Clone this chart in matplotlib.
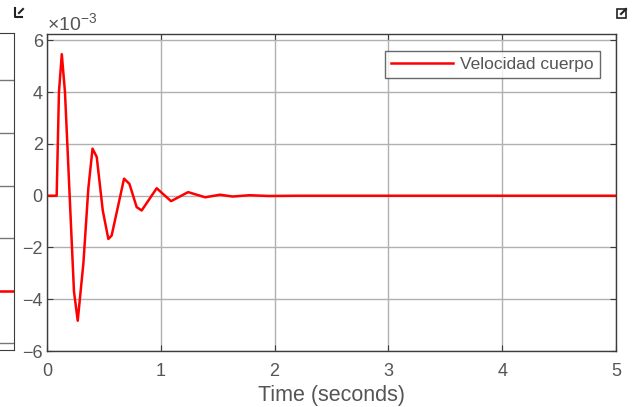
import matplotlib
matplotlib.use("Agg")
import matplotlib.pyplot as plt
from matplotlib.lines import Line2D
from matplotlib.patches import Rectangle

plt.rcParams['font.family'] = ['Liberation Sans', 'DejaVu Sans']
plt.rcParams['mathtext.fontset'] = 'custom'
plt.rcParams['mathtext.rm'] = 'Liberation Sans'
plt.rcParams['mathtext.it'] = 'Liberation Sans'

# Data (velocity in units of 1e-3)
time_s = [0.0, 0.085, 0.105, 0.13, 0.158, 0.237, 0.27, 0.32, 0.363, 0.40, 0.437,
          0.49, 0.539, 0.568, 0.677, 0.724, 0.788, 0.832, 0.964, 1.09, 1.24, 1.39,
          1.52, 1.63, 1.78, 1.95, 2.2, 5.0]
velocidad = [0.0, 0.0, 4.0, 5.47, 4.0, -3.7, -4.83, -2.6, 0.27, 1.82, 1.5,
             -0.57, -1.67, -1.54, 0.66, 0.46, -0.44, -0.57, 0.29, -0.21, 0.14, -0.06,
             0.04, -0.03, 0.02, -0.01, 0.0, 0.0]

x_ticks = [0, 1, 2, 3, 4, 5]
y_ticks = [-6, -4, -2, 0, 2, 4, 6]

# Partially visible left panel
left_ticks = [7, 59, 112, 164, 217, 270]
left_level = [59, 59]

W, H = 632, 407
fig = plt.figure(figsize=(W / 100, H / 100), dpi=100)

gray_txt = '#555555'
grid_c = '#b0b0b0'
spine_c = '#3c3c3c'

# Left cut-off panel
ax0 = fig.add_axes([-200 / W, (H - 350) / H, 214 / W, 317 / H])
ax0.set_xlim(0, 1)
ax0.set_ylim(0, 317)
ax0.set_yticks(left_ticks)
ax0.set_xticks([])
ax0.yaxis.grid(True, color='#777777', lw=1)
ax0.plot([0, 1], left_level, color='red', lw=1.8)
ax0.tick_params(labelleft=False, left=False, right=False)
for s in ax0.spines.values():
    s.set_color(spine_c)

# Main axes
ax = fig.add_axes([47 / W, (H - 351) / H, 569 / W, 317 / H])
ax.plot(time_s, velocidad, color='#ff0000', lw=1.8, label='Velocidad cuerpo')
ax.set_xlim(0, 5)
ax.set_ylim(-6, 6.25)
ax.set_xticks(x_ticks)
ax.set_yticks(y_ticks)
ax.grid(True, color=grid_c, lw=1)
ax.tick_params(direction='in', top=True, right=True, length=4, colors=spine_c,
               labelcolor=gray_txt, labelsize=13)
ax.tick_params(axis='x', pad=9)
ax.tick_params(axis='y', pad=3)
for s in ax.spines.values():
    s.set_color(spine_c)
    s.set_linewidth(1.0)

# x-axis label near the bottom edge, as in the reference
fig.text(331 / W, 5.5 / H, 'Time (seconds)', fontsize=15.5, color=gray_txt,
         ha='center', va='baseline')

ax.text(0.0, 1.0, r'$\times10^{-3}$', transform=ax.transAxes, fontsize=14,
        color=gray_txt, ha='left', va='bottom')

leg = ax.legend(loc='upper right', bbox_to_anchor=(0.972, 0.946), borderaxespad=0,
                fontsize=12.5, frameon=True, fancybox=False, handlelength=3.6,
                borderpad=0.35, labelcolor=gray_txt, handletextpad=0.4)
leg.get_frame().set_edgecolor('#444444')
leg.get_frame().set_linewidth(1.0)

# Corner icons
def px(x, y):
    return x / W, 1 - y / H

kw = dict(color='#222222', lw=1.5, transform=fig.transFigure)
fig.add_artist(Line2D([px(15, 8)[0], px(15, 17)[0], px(22, 17)[0]],
                      [px(15, 8)[1], px(15, 17)[1], px(22, 17)[1]], **kw))
fig.add_artist(Line2D([px(19, 13)[0], px(23, 9)[0]], [px(19, 13)[1], px(23, 9)[1]], **kw))
fig.add_artist(Rectangle(px(617, 18), 9 / W, 9 / H, fill=False, ec='#222222', lw=1.2,
                         transform=fig.transFigure))
fig.add_artist(Line2D([px(621, 14)[0], px(626, 9)[0]], [px(621, 14)[1], px(626, 9)[1]], **kw))

fig.savefig('out.png', dpi=100)
